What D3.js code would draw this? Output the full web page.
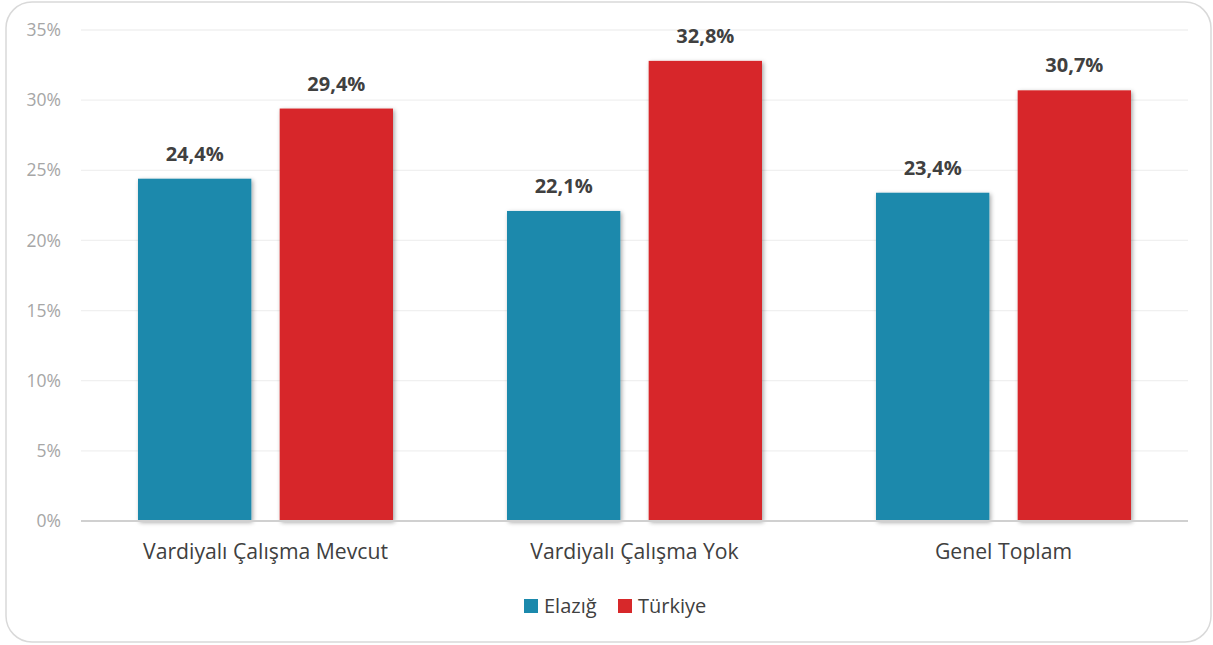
<!DOCTYPE html>
<html><head><meta charset="utf-8">
<script src="https://cdn.jsdelivr.net/npm/d3@7"></script>
<style>body{margin:0;background:#fff;}svg{display:block;font-family:"Open Sans",sans-serif;}</style>
</head><body>
<svg id="c" width="1213" height="645"></svg>
<script>
const categories = ["Vardiyalı Çalışma Mevcut", "Vardiyalı Çalışma Yok", "Genel Toplam"];
const seriesNames = ["Elazığ", "Türkiye"];
const elazig = [24.4, 22.1, 23.4];
const turkiye = [29.4, 32.8, 30.7];
const yTicks = [0, 5, 10, 15, 20, 25, 30, 35];
const colors = ["#1b89ac", "#d7282a"];

const svg = d3.select("#c");
const defs = svg.append("defs");
const f = defs.append("filter").attr("id","sh").attr("x","-10%").attr("y","-10%").attr("width","130%").attr("height","130%");
f.append("feDropShadow").attr("dx",1.5).attr("dy",1.5).attr("stdDeviation",2).attr("flood-color","#000").attr("flood-opacity",0.35);

svg.append("rect").attr("x",6).attr("y",2).attr("width",1205).attr("height",640).attr("rx",26).attr("ry",26)
  .attr("fill","#fff").attr("stroke","#d9d9d9").attr("stroke-width",1.5);

const x0 = d3.scaleBand().domain(categories).range([81,1188]).paddingInner(0).paddingOuter(0);
const y = d3.scaleLinear().domain([0,35]).range([521,30]);
const x1 = d3.scaleBand().domain(seriesNames).range([57, 369-57]).paddingInner(0.2);

// gridlines
svg.append("g").selectAll("line").data(yTicks.filter(d=>d>0)).join("line")
  .attr("x1",81).attr("x2",1188).attr("y1",d=>y(d)).attr("y2",d=>y(d))
  .attr("stroke","#f0f0f0").attr("stroke-width",1.3);

// y axis labels
const yAxis = d3.axisLeft(y).tickValues(yTicks).tickFormat(d=>d+"%").tickSize(0).tickPadding(0);
const ga = svg.append("g").attr("transform","translate(61,0)").call(yAxis);
ga.select(".domain").remove();
ga.selectAll("text").attr("fill","#a6a6a6").attr("font-size",17.5).attr("font-family","'Open Sans',sans-serif");

const data = categories.map((c,i)=>({cat:c, vals:[{s:seriesNames[0],v:elazig[i]},{s:seriesNames[1],v:turkiye[i]}]}));

const groups = svg.append("g").selectAll("g").data(data).join("g")
  .attr("transform",d=>`translate(${x0(d.cat)},0)`);
groups.selectAll("rect").data(d=>d.vals).join("rect")
  .attr("x",d=>x1(d.s)).attr("width",x1.bandwidth())
  .attr("y",d=>y(d.v)).attr("height",d=>y(0)-y(d.v))
  .attr("fill",(d,i)=>colors[i]).attr("filter","url(#sh)");
groups.selectAll("text").data(d=>d.vals).join("text")
  .attr("x",d=>x1(d.s)+x1.bandwidth()/2).attr("y",d=>y(d.v)-18)
  .attr("text-anchor","middle").attr("font-weight","bold").attr("font-size",20)
  .attr("fill","#404040").text(d=>d.v.toFixed(1).replace(".",",")+"%");

// x axis line
svg.append("line").attr("x1",81).attr("x2",1188).attr("y1",521).attr("y2",521)
  .attr("stroke","#d0d0d0").attr("stroke-width",2);

// x axis labels
const xAxis = d3.axisBottom(x0).tickSize(0).tickPadding(0);
const gx = svg.append("g").attr("transform","translate(0,559)").call(xAxis);
gx.select(".domain").remove();
gx.selectAll("text").attr("fill","#404040").attr("font-size",21.2).attr("font-family","'Open Sans',sans-serif").attr("y",0).attr("dy",0);

// legend
const leg = svg.append("g");
const legX = [524, 618];
seriesNames.forEach((s,i)=>{
  leg.append("rect").attr("x",legX[i]).attr("y",599).attr("width",14).attr("height",14).attr("fill",colors[i]);
  leg.append("text").attr("x",legX[i]+20).attr("y",613).attr("font-size",20).attr("fill","#404040").text(s);
});
</script>
</body></html>
